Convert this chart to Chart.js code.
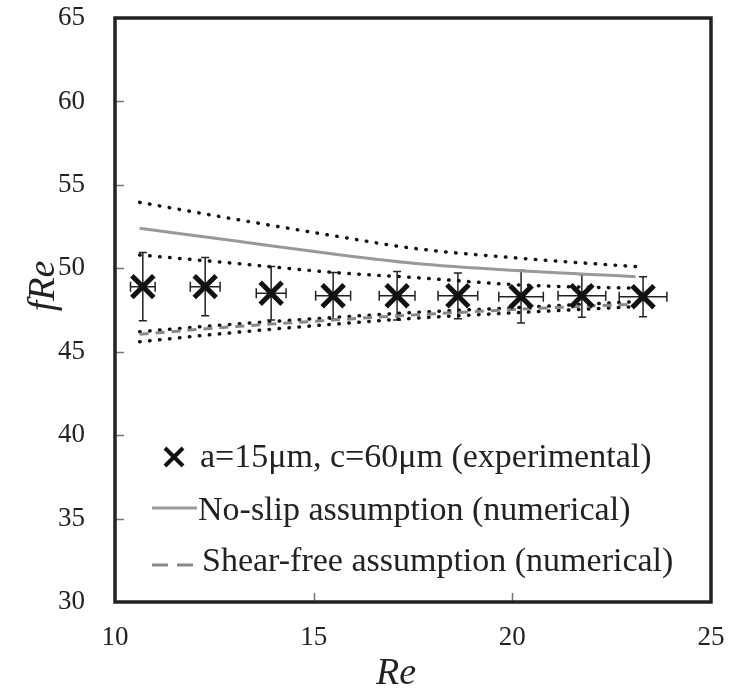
<!DOCTYPE html>
<html>
<head>
<meta charset="utf-8">
<script src="https://cdn.jsdelivr.net/npm/chart.js@4.4.1/dist/chart.umd.min.js"></script>
<style>
  html, body { margin: 0; padding: 0; background: #fff; }
</style>
</head>
<body>
<canvas id="grafico" width="729" height="693"></canvas>
<script>
// experimental points (a=15um, c=60um)
const reExp = [10.7, 12.27, 13.93, 15.49, 17.1, 18.63, 20.22, 21.75, 23.29];
const fReExp = [48.9, 48.9, 48.5, 48.35, 48.35, 48.35, 48.3, 48.35, 48.3];
const errFRe = [2.05, 1.75, 1.6, 1.4, 1.45, 1.37, 1.58, 1.28, 1.2];
const errRe = [0.31, 0.375, 0.375, 0.44, 0.45, 0.5, 0.56, 0.6, 0.6];

// numerical curves
const reNum = [10.62, 13, 15.5, 17.5, 20.2, 23.1];
const fReNoSlip = [52.4, 51.65, 50.85, 50.3, 49.85, 49.5];
const fReNoSlipUpper = [53.95, 52.95, 51.95, 51.2, 50.6, 50.1];
const fReNoSlipLower = [50.8, 50.3, 49.75, 49.45, 49.0, 48.8];
const fReShearFree = [46.05, 46.5, 46.9, 47.2, 47.55, 47.85];
const fReShearFreeUpper = [46.2, 46.65, 47.05, 47.35, 47.65, 48.0];
const fReShearFreeLower = [45.6, 46.15, 46.65, 47.0, 47.35, 47.7];

const xTicks = [10, 15, 20, 25];
const yTicks = [30, 35, 40, 45, 50, 55, 60, 65];

const legendas = [
    "a=15\u03bcm, c=60\u03bcm (experimental)",
    "No-slip assumption (numerical)",
    "Shear-free assumption (numerical)"
];

const serif = "'Liberation Serif', 'Times New Roman', serif";

function pontos(xs, ys) {
    return xs.map((v, i) => ({ x: v, y: ys[i] }));
}

function linhaPontilhada(label, ys) {
    return {
        label: label,
        data: pontos(reNum, ys),
        showLine: true,
        pointRadius: 0,
        borderColor: "#111",
        borderWidth: 3.5,
        borderDash: [0.5, 9.5],
        borderCapStyle: "round",
        cubicInterpolationMode: "monotone"
    };
}

// no automatic padding around the axes: the plot box is fixed
function semPadding(s) {
    s.paddingTop = 0;
    s.paddingBottom = 0;
    s.paddingLeft = 0;
    s.paddingRight = 0;
}

// error bars for the experimental points
const barrasErro = {
    id: "barrasErro",
    beforeDatasetsDraw(chart) {
        const { ctx, scales: { x, y } } = chart;
        ctx.save();
        ctx.strokeStyle = "#222";
        ctx.lineWidth = 1.5;
        reExp.forEach((re, i) => {
            const px = x.getPixelForValue(re);
            const py = y.getPixelForValue(fReExp[i]);
            const topo = y.getPixelForValue(fReExp[i] + errFRe[i]);
            const base = y.getPixelForValue(fReExp[i] - errFRe[i]);
            const esq = x.getPixelForValue(re - errRe[i]);
            const dir = x.getPixelForValue(re + errRe[i]);
            ctx.beginPath();
            ctx.moveTo(px, topo); ctx.lineTo(px, base);
            ctx.moveTo(px - 4, topo); ctx.lineTo(px + 4, topo);
            ctx.moveTo(px - 4, base); ctx.lineTo(px + 4, base);
            ctx.moveTo(esq, py); ctx.lineTo(dir, py);
            ctx.moveTo(esq, py - 5); ctx.lineTo(esq, py + 5);
            ctx.moveTo(dir, py - 5); ctx.lineTo(dir, py + 5);
            ctx.stroke();
        });
        ctx.restore();
    }
};

// frame, inner ticks, axis titles and legend
const moldura = {
    id: "moldura",
    afterDraw(chart) {
        const { ctx, chartArea: a, scales: { x, y } } = chart;
        ctx.save();

        // inner ticks
        ctx.strokeStyle = "#777";
        ctx.lineWidth = 1.5;
        ctx.beginPath();
        yTicks.slice(1, -1).forEach(v => {
            const py = Math.round(y.getPixelForValue(v)) + 0.5;
            ctx.moveTo(a.left, py); ctx.lineTo(a.left + 9, py);
        });
        xTicks.slice(1, -1).forEach(v => {
            const px = Math.round(x.getPixelForValue(v)) + 0.5;
            ctx.moveTo(px, a.bottom); ctx.lineTo(px, a.bottom - 9);
        });
        ctx.stroke();

        // frame
        ctx.strokeStyle = "#222";
        ctx.lineWidth = 3.5;
        ctx.strokeRect(a.left, a.top, a.right - a.left, a.bottom - a.top);

        // axis titles
        ctx.fillStyle = "#222";
        ctx.font = "italic 38px " + serif;
        ctx.textAlign = "center";
        ctx.textBaseline = "alphabetic";
        ctx.fillText("Re", a.left + 281, a.bottom + 82);
        ctx.save();
        ctx.translate(a.left - 61, a.top + 268);
        ctx.rotate(-Math.PI / 2);
        ctx.fillText("fRe", 0, 0);
        ctx.restore();

        // legend
        const lx = a.left;
        const ly = a.bottom;
        ctx.font = "34px " + serif;
        ctx.textAlign = "left";
        ctx.fillStyle = "#222";

        ctx.strokeStyle = "#111";
        ctx.lineWidth = 4;
        ctx.beginPath();
        ctx.moveTo(lx + 50, ly - 154); ctx.lineTo(lx + 68, ly - 136);
        ctx.moveTo(lx + 68, ly - 154); ctx.lineTo(lx + 50, ly - 136);
        ctx.stroke();
        ctx.fillText(legendas[0], lx + 85, ly - 135);

        ctx.strokeStyle = "#999";
        ctx.lineWidth = 3;
        ctx.beginPath();
        ctx.moveTo(lx + 37, ly - 94); ctx.lineTo(lx + 82, ly - 94);
        ctx.stroke();
        ctx.fillText(legendas[1], lx + 83, ly - 82);

        ctx.strokeStyle = "#888";
        ctx.setLineDash([16, 9]);
        ctx.beginPath();
        ctx.moveTo(lx + 37, ly - 37); ctx.lineTo(lx + 78, ly - 37);
        ctx.stroke();
        ctx.setLineDash([]);
        ctx.fillText(legendas[2], lx + 87, ly - 31);

        ctx.restore();
    }
};

new Chart(document.getElementById("grafico"), {
    type: "scatter",
    data: {
        datasets: [
            {
                label: legendas[0],
                data: pontos(reExp, fReExp),
                pointStyle: "crossRot",
                pointRadius: 15.5,
                pointBorderWidth: 5,
                pointBorderColor: "#111",
                pointBackgroundColor: "#111",
                showLine: false
            },
            {
                label: legendas[1],
                data: pontos(reNum, fReNoSlip),
                showLine: true,
                pointRadius: 0,
                borderColor: "#999",
                borderWidth: 3,
                cubicInterpolationMode: "monotone"
            },
            {
                label: legendas[2],
                data: pontos(reNum, fReShearFree),
                showLine: true,
                pointRadius: 0,
                borderColor: "#888",
                borderWidth: 3,
                borderDash: [9, 7],
                cubicInterpolationMode: "monotone"
            },
            linhaPontilhada("no-slip upper", fReNoSlipUpper),
            linhaPontilhada("no-slip lower", fReNoSlipLower),
            linhaPontilhada("shear-free upper", fReShearFreeUpper),
            linhaPontilhada("shear-free lower", fReShearFreeLower)
        ]
    },
    options: {
        responsive: false,
        animation: false,
        devicePixelRatio: 1,
        layout: { autoPadding: false, padding: { top: 18, right: 18, left: 0, bottom: 0 } },
        plugins: {
            legend: { display: false },
            tooltip: { enabled: false }
        },
        scales: {
            x: {
                type: "linear",
                min: xTicks[0],
                max: xTicks[xTicks.length - 1],
                afterBuildTicks: s => { s.ticks = xTicks.map(v => ({ value: v })); },
                afterFit: s => { s.height = 91; semPadding(s); },
                grid: { display: false, drawTicks: false, tickLength: 0 },
                border: { display: false },
                ticks: {
                    padding: 20,
                    color: "#222",
                    font: { family: serif, size: 27 }
                }
            },
            y: {
                type: "linear",
                min: yTicks[0],
                max: yTicks[yTicks.length - 1],
                afterBuildTicks: s => { s.ticks = yTicks.map(v => ({ value: v })); },
                afterFit: s => { s.width = 115; semPadding(s); },
                grid: { display: false, drawTicks: false, tickLength: 0 },
                border: { display: false },
                ticks: {
                    padding: 30,
                    color: "#222",
                    font: { family: serif, size: 27 }
                }
            }
        }
    },
    plugins: [barrasErro, moldura]
});
</script>
</body>
</html>
